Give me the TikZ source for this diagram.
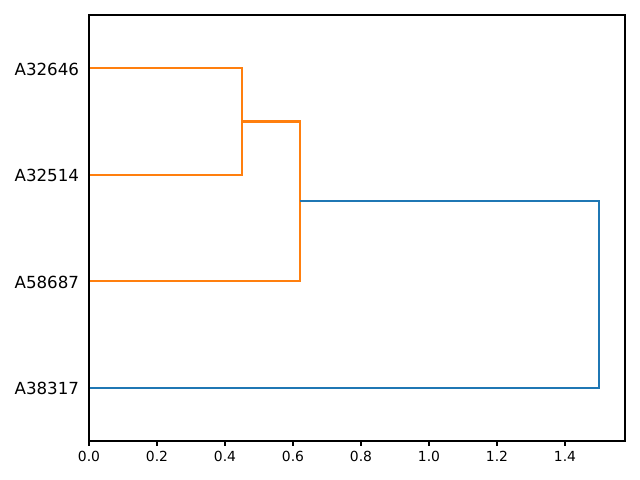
\documentclass[tikz,border=0pt]{standalone}
\usepackage{fontspec}
\setmainfont{DejaVu Sans}
\definecolor{mplorange}{HTML}{FF7F0E}
\definecolor{mplblue}{HTML}{1F77B4}
\begin{document}
\begin{tikzpicture}[x=0.72pt,y=-0.72pt,
  link/.style={line width=1.5pt,line join=miter,line cap=butt},
  spine/.style={line width=0.8pt,line join=miter},
  tick/.style={line width=0.8pt},
  ticklab/.style={font=\fontsize{10}{12}\selectfont,anchor=north,inner sep=0pt},
  leaflab/.style={font=\fontsize{12}{14}\selectfont,anchor=east,inner sep=0pt}]
\useasboundingbox (0,0) rectangle (640,480);
% leaves (px coordinates)
\coordinate (l1) at (89,68.25);
\coordinate (l2) at (89,174.75);
\coordinate (l3) at (89,281.25);
\coordinate (l4) at (89,387.75);
% merge points
\coordinate (m1t) at (242,68.25);
\coordinate (m1b) at (242,174.75);
\coordinate (m2t) at (299.8,121.5);
\coordinate (m2b) at (299.8,281.25);
\coordinate (m3t) at (599,201.4);
\coordinate (m3b) at (599,387.75);
\draw[link,mplorange] (l1) -- (m1t) -- (m1b) -- (l2);
\draw[link,mplorange] (m1t |- m2t) -- (m2t) -- (m2b) -- (l3);
\draw[link,mplblue] (m2t |- m3t) -- (m3t) -- (m3b) -- (l4);
% axes frame
\draw[spine] (89,15) rectangle (625,441);
% leaf labels
\node[leaflab] (t1) at (79.3,69.2) {A32646};
\node[leaflab] (t2) at (79.3,175.7) {A32514};
\node[leaflab] (t3) at (79.3,282.2) {A58687};
\node[leaflab] (t4) at (79.3,388.7) {A38317};
% x ticks
\foreach \v/\lab [count=\i] in {0/0.0,0.2/0.2,0.4/0.4,0.6/0.6,0.8/0.8,1.0/1.0,1.2/1.2,1.4/1.4}{
  \draw[tick] ({89+340*\v},441) -- ({89+340*\v},445.9);
  \node[ticklab] (x\i) at ({89+340*\v},451.2) {\lab};
}
\end{tikzpicture}
\end{document}
